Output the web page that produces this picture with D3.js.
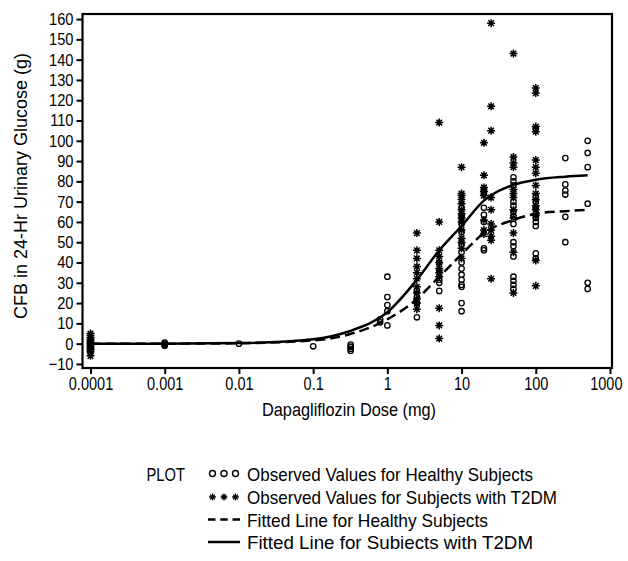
<!DOCTYPE html>
<html>
<head>
<meta charset="utf-8">
<script src="https://cdn.jsdelivr.net/npm/d3@7"></script>
<style>
  body { margin: 0; background: #fff; }
  svg text { font-family: "Liberation Sans", Arial, sans-serif; fill: #000; }
</style>
</head>
<body>
<div id="chart"></div>
<script>
// observed values, by dose (mg); dose 0.0001 stands for placebo
const healthyObs = [
  {dose: 0.0001, v: [2, 1, 0.5, 0, -0.5, -1, -2, -3, -4]},
  {dose: 0.001, v: [0.5, 0, -0.5, -1]},
  {dose: 0.01, v: [0]},
  {dose: 0.1, v: [-1.3]},
  {dose: 0.32, v: [-0.5, -1.5, -2.5, -3.5]},
  {dose: 0.8, v: [12, 10.5]},
  {dose: 1, v: [33, 23, 19, 16, 9]},
  {dose: 2.5, v: [26, 23, 20, 13]},
  {dose: 5, v: [40, 36, 31.5, 30, 26]},
  {dose: 10, v: [67, 63, 59, 55, 49, 45, 40, 37, 34, 31.5, 29, 28, 20, 16]},
  {dose: 20, v: [76, 74, 67, 63.5, 60, 47, 46]},
  {dose: 50, v: [82, 80, 78, 70, 68, 65, 63, 59, 50, 48, 43, 33, 31, 29, 27]},
  {dose: 100, v: [106, 72.5, 70, 67, 64, 62, 60, 58, 44.5, 42]},
  {dose: 250, v: [91.5, 78.5, 75.5, 73.5, 62.5, 50]},
  {dose: 500, v: [100, 94, 87, 69, 30, 27]}
];
const t2dmObs = [
  {dose: 0.0001, v: [5, 4, 3, 2, 1, 0, -1, -2, -3, -4, -6]},
  {dose: 2.5, v: [54.5, 46, 42, 38, 35, 32, 28, 25, 22, 20, 17]},
  {dose: 5, v: [109, 60, 46, 43, 40, 37, 35, 33, 17.5, 9, 2.5]},
  {dose: 10, v: [87, 74, 73, 71, 69, 66, 64, 62, 60, 56, 52, 50, 47, 42]},
  {dose: 20, v: [99, 83, 77, 75, 73, 61, 56, 54]},
  {dose: 25, v: [158, 117, 105, 72, 66, 59, 56, 53, 51, 32]},
  {dose: 50, v: [143, 92, 89, 87, 76, 74, 72, 66, 62, 54.5, 45, 25]},
  {dose: 100, v: [126, 123.5, 107, 104.5, 90.5, 87, 84, 78, 74, 71, 68, 66, 63, 41, 28.5]}
];

// fitted lines
const fitDoses   = [0.0001, 0.001, 0.01, 0.1, 0.3, 1, 2.5, 5, 10, 20, 50, 100, 250, 500];
const fitHealthy = [0, 0, 0.2, 1.6, 4.5, 12, 22, 33, 44, 54.5, 61, 64, 65.3, 66];
const fitT2dm    = [0, 0, 0.3, 2.2, 6, 15.5, 31.5, 46, 58, 70.5, 78.3, 80.8, 82.3, 83];

const xTicks = [0.0001, 0.001, 0.01, 0.1, 1, 10, 100, 1000];
const xTickLabels = ["0.0001", "0.001", "0.01", "0.1", "1", "10", "100", "1000"];
const yTicks = d3.range(-10, 161, 10);

const legendLabels = [
  "Observed Values for Healthy Subjects",
  "Observed Values for Subjects with T2DM",
  "Fitted Line for Healthy Subjects",
  "Fitted Line for Subiects with T2DM"
];

const W = 628, H = 561;
const svg = d3.select("#chart").append("svg")
    .attr("width", W).attr("height", H);

const x = d3.scaleLog().domain([1e-4, 1e3]).range([90.5, 610]);
const y = d3.scaleLinear().domain([-12, 162.5]).range([368, 14]);

// the source font is a condensed sans; squeeze Liberation Sans to match
function condense(sel, k) {
  sel.each(function() {
    const w = this.getComputedTextLength();
    d3.select(this).attr("textLength", w * k).attr("lengthAdjust", "spacingAndGlyphs");
  });
}
function fitWidth(sel, w) {
  sel.attr("textLength", w).attr("lengthAdjust", "spacingAndGlyphs");
}

// star marker: 8-spoke asterisk
function starPath(r) {
  const p = d3.path();
  for (let i = 0; i < 4; i++) {
    const a = i * Math.PI / 4;
    p.moveTo(-r * Math.cos(a), -r * Math.sin(a));
    p.lineTo(r * Math.cos(a), r * Math.sin(a));
  }
  return p.toString();
}

// axes
const yAxis = d3.axisLeft(y).tickValues(yTicks).tickSize(6).tickPadding(3);
const gy = svg.append("g").attr("transform", "translate(82.5,0)").call(yAxis);
gy.select(".domain").remove();
gy.selectAll("line").attr("stroke-width", 2);
gy.selectAll("text").style("font-size", "17px").call(condense, 0.86);

const xAxis = d3.axisBottom(x).tickValues(xTicks)
    .tickFormat((d, i) => xTickLabels[i]).tickSize(6).tickPadding(4);
const gx = svg.append("g").attr("transform", "translate(0,368)").call(xAxis);
gx.select(".domain").remove();
gx.selectAll("line").attr("stroke-width", 2);
gx.selectAll("text").style("font-size", "17.5px").call(condense, 0.83);
// last label sits at the right edge: anchor it at its end so it stays inside
gx.selectAll(".tick text").filter(d => d === 1000)
    .attr("text-anchor", "end").attr("x", 12);

// frame
svg.append("rect")
    .attr("x", 82.5).attr("y", 14)
    .attr("width", 529.5).attr("height", 354)
    .attr("fill", "none").attr("stroke", "#000").attr("stroke-width", 2.2);

// observed points
const flat = arr => arr.flatMap(g => g.v.map(v => ({dose: g.dose, v})));

svg.append("g").selectAll("circle")
    .data(flat(healthyObs)).enter().append("circle")
    .attr("cx", d => x(d.dose)).attr("cy", d => y(d.v))
    .attr("r", 2.7).attr("fill", "none")
    .attr("stroke", "#000").attr("stroke-width", 1.3);

const star = starPath(4);
const gs = svg.append("g").selectAll("g")
    .data(flat(t2dmObs)).enter().append("g")
    .attr("transform", d => `translate(${x(d.dose)},${y(d.v)})`);
gs.append("path").attr("d", star).attr("stroke", "#000").attr("stroke-width", 1.5);
gs.append("circle").attr("r", 1.8).attr("fill", "#000");

// fitted lines
const line = d3.line().x(d => x(d[0])).y(d => y(d[1])).curve(d3.curveMonotoneX);
svg.append("path")
    .datum(fitDoses.map((d, i) => [d, fitHealthy[i]]))
    .attr("d", line).attr("fill", "none").attr("stroke", "#000")
    .attr("stroke-width", 2.5).attr("stroke-dasharray", "10,5");
svg.append("path")
    .datum(fitDoses.map((d, i) => [d, fitT2dm[i]]))
    .attr("d", line).attr("fill", "none").attr("stroke", "#000")
    .attr("stroke-width", 2.5);

// axis titles
svg.append("text")
    .attr("x", 349).attr("y", 416)
    .attr("text-anchor", "middle").style("font-size", "18px")
    .text("Dapagliflozin Dose (mg)").call(fitWidth, 174);
svg.append("text")
    .attr("transform", "translate(27,186) rotate(-90)")
    .attr("text-anchor", "middle").style("font-size", "18px")
    .text("CFB in 24-Hr Urinary Glucose (g)").call(fitWidth, 266);

// legend
const lg = svg.append("g");
lg.append("text").attr("x", 146.5).attr("y", 480.5).style("font-size", "19px")
  .text("PLOT").call(fitWidth, 38.5);
const rowY = [473.5, 497, 519.5, 542];
const rowW = [286, 310, 241, 286];
legendLabels.forEach((t, i) => {
  lg.append("text").attr("x", 247).attr("y", rowY[i] + 7).style("font-size", "19px")
    .text(t).call(fitWidth, rowW[i]);
});
[212.5, 224, 235.5].forEach(cx => {
  lg.append("circle").attr("cx", cx).attr("cy", rowY[0]).attr("r", 3)
    .attr("fill", "none").attr("stroke", "#000").attr("stroke-width", 1.4);
  const s = lg.append("g").attr("transform", `translate(${cx},${rowY[1]})`);
  s.append("path").attr("d", starPath(3.4)).attr("stroke", "#000").attr("stroke-width", 1.3);
  s.append("circle").attr("r", 1.4).attr("fill", "#000");
});
lg.append("line").attr("x1", 208).attr("x2", 240).attr("y1", rowY[2]).attr("y2", rowY[2])
  .attr("stroke", "#000").attr("stroke-width", 2.5).attr("stroke-dasharray", "7.5,4.75");
lg.append("line").attr("x1", 208).attr("x2", 240).attr("y1", rowY[3]).attr("y2", rowY[3])
  .attr("stroke", "#000").attr("stroke-width", 2.5);
</script>
</body>
</html>
